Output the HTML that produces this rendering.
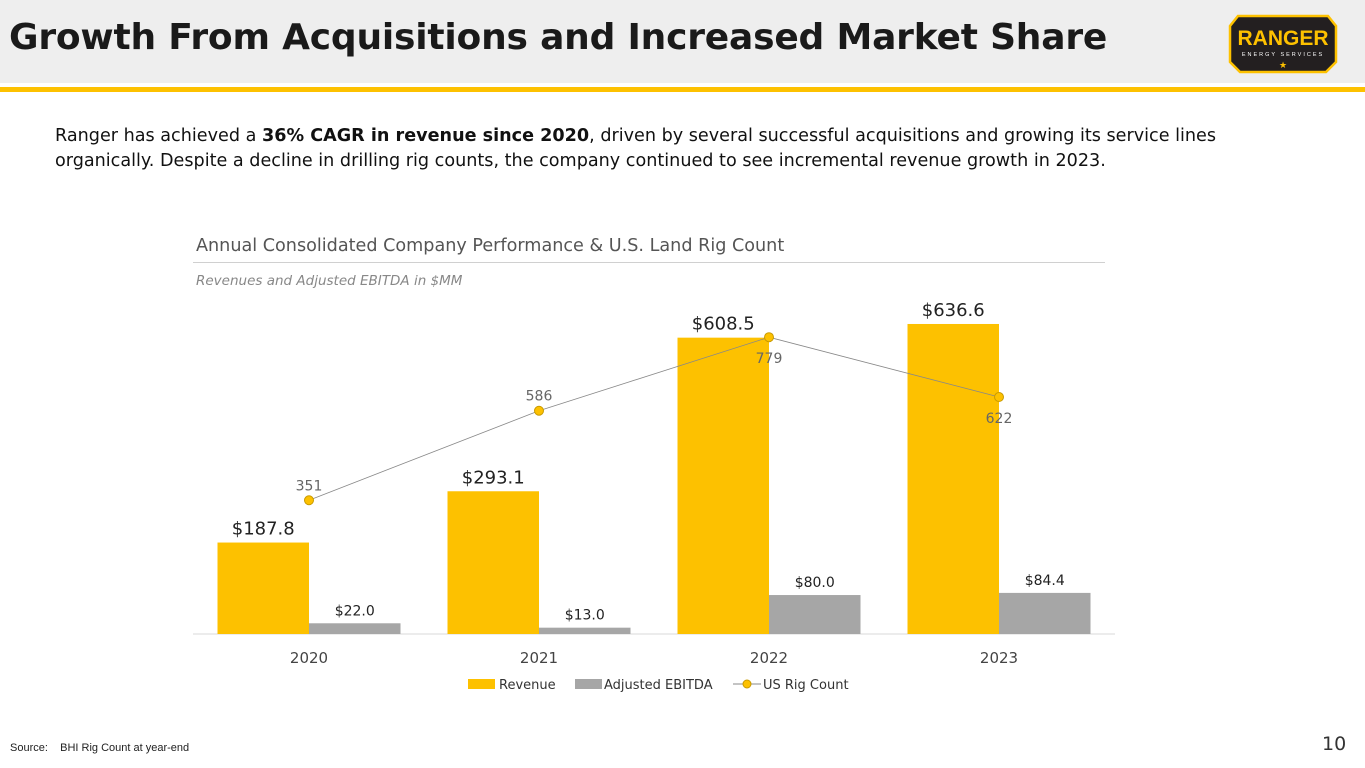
<!DOCTYPE html>
<html><head><meta charset="utf-8"><style>
body{margin:0;width:1365px;height:768px;overflow:hidden;background:#fff;font-family:"DejaVu Sans","Liberation Sans",sans-serif;position:relative}
.abs{position:absolute}
</style></head><body>
<div class="abs" style="left:0;top:0;width:1365px;height:83px;background:#eeeeee"></div>
<div class="abs" style="left:0;top:87px;width:1365px;height:5px;background:#fdc100"></div>
<div class="abs" style="left:9px;top:17px;font-size:36px;font-weight:bold;color:#1a1a1a;white-space:nowrap;letter-spacing:-0.2px">Growth From Acquisitions and Increased Market Share</div>
<svg class="abs" style="left:1228px;top:14px" width="110" height="62" viewBox="0 0 110 62">
<polygon points="10,2 100,2 108,12 108,48 98,58 12,58 2,48 2,12" fill="#231f20" stroke="#fdc100" stroke-width="2.5"/>
<text x="55" y="31" text-anchor="middle" font-family="Liberation Sans" font-weight="bold" font-size="21" fill="#fdc100">RANGER</text>
<text x="55" y="42" text-anchor="middle" font-family="Liberation Sans" font-size="5.5" fill="#fff" letter-spacing="2">ENERGY SERVICES</text>
<text x="55" y="54" text-anchor="middle" font-size="9" fill="#fdc100">★</text>
</svg>
<div class="abs" style="left:55px;top:124px;width:1220px;font-size:17.6px;line-height:25px;color:#111">Ranger has achieved a <b>36% CAGR in revenue since 2020</b>, driven by several successful acquisitions and growing its service lines organically. Despite a decline in drilling rig counts, the company continued to see incremental revenue growth in 2023.</div>
<div class="abs" style="left:196px;top:236px;font-size:17.6px;color:#555">Annual Consolidated Company Performance &amp; U.S. Land Rig Count</div>
<div class="abs" style="left:193px;top:262px;width:912px;height:1px;background:#d0d0d0"></div>
<div class="abs" style="left:196px;top:273px;font-size:13.5px;font-style:italic;color:#888">Revenues and Adjusted EBITDA in $MM</div>
<svg class="abs" id="chart" style="left:0;top:0" width="1365" height="768"></svg>
<div class="abs" style="left:10px;top:742px;font-family:'Liberation Sans',sans-serif;font-size:11px;color:#222">Source:&nbsp;&nbsp;&nbsp; BHI Rig Count at year-end</div>
<div class="abs" style="left:1322px;top:733px;font-size:19px;color:#333">10</div>
<script>
const years=["2020","2021","2022","2023"];
const revenue=[187.8,293.1,608.5,636.6];
const ebitda=[22.0,13.0,80.0,84.4];
const rigCount=[351,586,779,622];
const NS="http://www.w3.org/2000/svg";
const svg=document.getElementById('chart');
const base=634, x0=194, band=230, bw=91.5;
const yL=v=>base-v*0.487, yR=v=>base-v*0.381, xc=i=>x0+band*i+band/2;
function mk(t,a,txt){const e=document.createElementNS(NS,t);for(const k in a)e.setAttribute(k,a[k]);if(txt!==undefined)e.textContent=txt;svg.appendChild(e);return e;}
let e=mk('line',{x1:193,x2:1115,y1:base,y2:base,stroke:'#d9d9d9','stroke-width':1});

years.forEach((y,i)=>{
 let r=mk('rect',{x:xc(i)-bw,y:yL(revenue[i]),width:bw,height:base-yL(revenue[i]),fill:'#fdc100'});
 
 let g=mk('rect',{x:xc(i),y:yL(ebitda[i]),width:bw,height:base-yL(ebitda[i]),fill:'#a6a6a6'});
 
 let t=mk('text',{x:xc(i)-bw/2,y:yL(revenue[i])-8,'text-anchor':'middle','font-size':18,fill:'#222'},'$'+revenue[i].toFixed(1));
 
 let t2=mk('text',{x:xc(i)+bw/2,y:yL(ebitda[i])-8,'text-anchor':'middle','font-size':14,fill:'#222'},'$'+ebitda[i].toFixed(1));
 
 let a=mk('text',{x:xc(i),y:663,'text-anchor':'middle','font-size':15,fill:'#444'},y);
 
});
let pts=rigCount.map((v,i)=>xc(i)+','+yR(v)).join(' ');
let pl=mk('polyline',{points:pts,fill:'none',stroke:'#888','stroke-width':0.8});

rigCount.forEach((v,i)=>{
 let c=mk('circle',{cx:xc(i),cy:yR(v),r:4.5,fill:'#fdc100',stroke:'#c99a00','stroke-width':1});
 
 const below=i>=2;
 let t=mk('text',{x:xc(i),y:below?yR(v)+26:yR(v)-10,'text-anchor':'middle','font-size':14,fill:'#666'},String(v));
 
});
let l1=mk('rect',{x:468,y:679,width:27,height:10,fill:'#fdc100'});
let l1t=mk('text',{x:499,y:689,'font-size':13,fill:'#333'},'Revenue');
let l2=mk('rect',{x:575,y:679,width:27,height:10,fill:'#a6a6a6'});
let l2t=mk('text',{x:604,y:689,'font-size':13,fill:'#333'},'Adjusted EBITDA');
let l3=mk('line',{x1:733,x2:761,y1:684,y2:684,stroke:'#888','stroke-width':1});
let l3c=mk('circle',{cx:747,cy:684,r:4,fill:'#fdc100',stroke:'#c99a00'});
let l3t=mk('text',{x:763,y:689,'font-size':13,fill:'#333'},'US Rig Count');
</script>
</body></html>
